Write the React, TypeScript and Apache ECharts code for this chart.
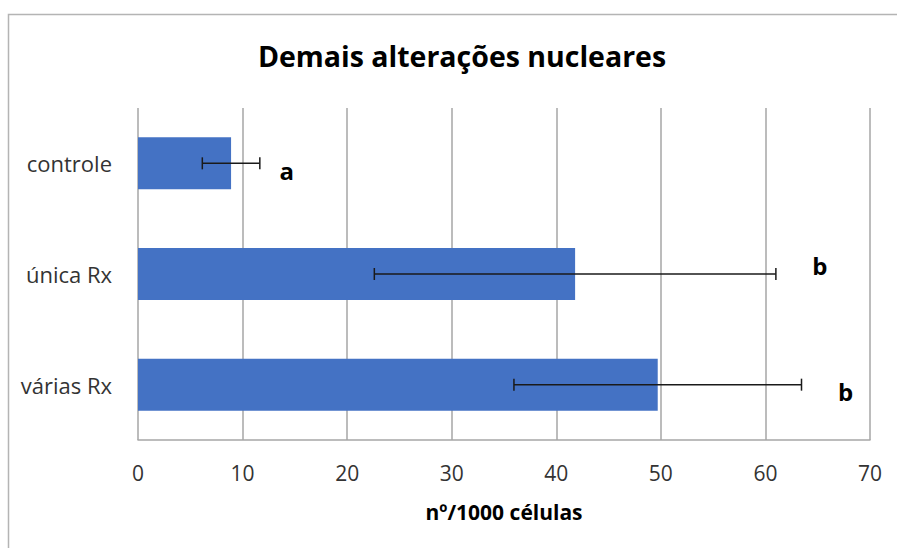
import React, { useEffect, useRef } from "react";
import * as echarts from "echarts";

const categories = ["controle", "única Rx", "várias Rx"];
const means = [8.9, 41.8, 49.7];
const errors = [2.75, 19.2, 13.75];
const letters = ["a", "b", "b"];
const xTicks = [0, 10, 20, 30, 40, 50, 60, 70];

const FONT = "'Open Sans', sans-serif";

export default function App() {
  const ref = useRef<HTMLDivElement>(null);
  useEffect(() => {
    if (!ref.current) return;
    const chart = echarts.init(ref.current, null, { renderer: "svg" });
    const letterDx = [27, 44, 44];
    const letterDy = [7, -9, 7];
    chart.setOption({
      animation: false,
      backgroundColor: "#ffffff",
      title: {
        text: "Demais alterações nucleares",
        left: 457,
        textAlign: "center",
        top: 36,
        textStyle: { fontFamily: FONT, fontSize: 28.5, fontWeight: "bold", color: "#000" },
      },
      graphic: [
        {
          type: "polyline",
          shape: { points: [[8.5, 560], [8.5, 14.5], [900, 14.5]] },
          style: { stroke: "#b4b4b4", lineWidth: 1.5, fill: "none" },
          silent: true,
        },
      ],
      grid: { left: 138, right: 27, top: 108, bottom: 108 },
      xAxis: {
        type: "value",
        min: xTicks[0],
        max: xTicks[xTicks.length - 1],
        interval: 10,
        name: "nº/1000 células",
        nameLocation: "middle",
        nameGap: 61,
        nameTextStyle: { fontFamily: FONT, fontSize: 21, fontWeight: "bold", color: "#000" },
        axisLine: { show: true, lineStyle: { color: "#a6a6a6", width: 1.5 } },
        axisTick: { show: false },
        axisLabel: { fontFamily: FONT, fontSize: 21, color: "#333", margin: 22 },
        splitLine: { show: true, lineStyle: { color: "#a6a6a6", width: 1.5 } },
      },
      yAxis: {
        type: "category",
        inverse: true,
        data: categories,
        axisLine: { show: false },
        axisTick: { show: false },
        axisLabel: { fontFamily: FONT, fontSize: 22, color: "#333", margin: 26 },
        splitLine: { show: false },
      },
      series: [
        {
          type: "bar",
          data: means,
          barWidth: 52,
          itemStyle: { color: "#4472C4" },
          z: 2,
        },
        {
          type: "custom",
          z: 5,
          data: means.map((m, i) => [i, m - errors[i], m + errors[i]]),
          encode: { x: [1, 2], y: 0 },
          renderItem: (params: any, api: any) => {
            const idx = api.value(0);
            const lo = api.coord([api.value(1), idx]);
            const hi = api.coord([api.value(2), idx]);
            const y = lo[1];
            const cap = 6;
            const st = { stroke: "#1a1a1a", lineWidth: 1.5 };
            return {
              type: "group",
              children: [
                { type: "line", shape: { x1: lo[0], y1: y, x2: hi[0], y2: y }, style: st },
                { type: "line", shape: { x1: lo[0], y1: y - cap, x2: lo[0], y2: y + cap }, style: st },
                { type: "line", shape: { x1: hi[0], y1: y - cap, x2: hi[0], y2: y + cap }, style: st },
                {
                  type: "text",
                  x: hi[0] + letterDx[params.dataIndex],
                  y: y + letterDy[params.dataIndex],
                  style: {
                    text: letters[params.dataIndex],
                    fontFamily: FONT,
                    fontSize: 24,
                    fontWeight: "bold",
                    fill: "#000",
                    align: "center",
                    verticalAlign: "middle",
                  },
                },
              ],
            };
          },
        },
      ],
    });
    return () => chart.dispose();
  }, []);
  return (
    <div
      ref={ref}
      style={{ position: "fixed", left: 0, top: 0, width: 897, height: 548 }}
    />
  );
}
